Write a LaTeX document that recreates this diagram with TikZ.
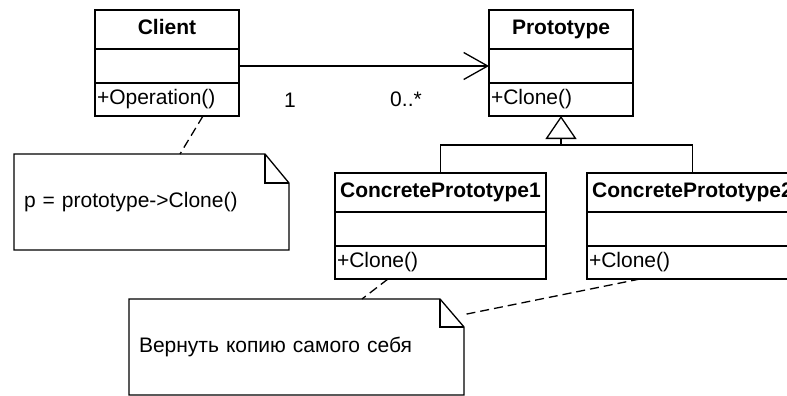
\documentclass[tikz,border=0pt]{standalone}
\usepackage{fontspec}
\setmainfont{Liberation Sans}
\usetikzlibrary{arrows.meta}
\begin{document}
\begin{tikzpicture}[x=1pt, y=-1pt, font=\fontsize{21}{25}\selectfont]

\tikzset{head/.style = {draw, line width=1.3pt, font=\fontsize{21}{25}\selectfont\bfseries, anchor=north west, minimum height=39pt, text height=15pt, text depth=5pt, inner sep=2pt, outer sep=0pt, align=center}}
\tikzset{attr/.style = {draw, line width=1.3pt, anchor=north west, minimum height=34pt, inner sep=2pt, outer sep=0pt}}
\tikzset{ops/.style = {draw, line width=1.3pt, anchor=north west, minimum height=33pt, text height=15pt, text depth=5pt, inner sep=2pt, outer sep=0pt, align=left}}
\tikzset{notebox/.style = {minimum height=96pt, inner xsep=10pt, outer sep=0pt, align=left}}
\tikzset{umlline/.style = {line width=1.3pt}}
\tikzset{assoc/.style = {umlline, -{Straight Barb[length=24pt, width=27pt]}}}
\tikzset{gen/.style = {umlline, -{Triangle[open, length=23pt, width=31pt]}}}
\tikzset{notelink/.style = {umlline, dash pattern=on 9pt off 5pt}}

\useasboundingbox (0,0) rectangle (787,396);
\clip (0,0) rectangle (787,396);
%classes
\node[head, text width=140pt] (client) at (95,10) {Client};
\node[attr, text width=140pt] (clientA) at (client.south west) {};
\node[ops, text width=140pt] (clientO) at (clientA.south west) {+Operation()};
\node[head, text width=140pt] (proto) at (489,10) {Prototype};
\node[attr, text width=140pt] (protoA) at (proto.south west) {};
\node[ops, text width=140pt] (protoO) at (protoA.south west) {+Clone()};
\node[head, text width=207pt] (cp1) at (335,173) {ConcretePrototype1};
\node[attr, text width=207pt] (cp1A) at (cp1.south west) {};
\node[ops, text width=207pt] (cp1O) at (cp1A.south west) {+Clone()};
\node[head, text width=207pt] (cp2) at (587,173) {ConcretePrototype2};
\node[attr, text width=207pt] (cp2A) at (cp2.south west) {};
\node[ops, text width=207pt] (cp2O) at (cp2A.south west) {+Clone()};
%notes
\node[notebox, text width=255pt] (note1) at (151.5,202) {p = prototype->Clone()};
\draw[umlline] (note1.north west) -- ([xshift=-24pt]note1.north east) -- ([yshift=-29pt]note1.north east) -- (note1.south east) -- (note1.south west) -- cycle;
\draw[umlline] ([xshift=-24pt]note1.north east) |- ([yshift=-29pt]note1.north east);
\node[notebox, text width=315pt] (note2) at (296.5,347) {Вернуть копию самого себя};
\draw[umlline] (note2.north west) -- ([xshift=-24pt]note2.north east) -- ([yshift=-28pt]note2.north east) -- (note2.south east) -- (note2.south west) -- cycle;
\draw[umlline] ([xshift=-24pt]note2.north east) |- ([yshift=-28pt]note2.north east);
%edges
\draw[assoc] (clientA.east) -- (protoA.west);
\node (one) at (290,100) {1};
\node (many) at (406,99) {0..*};
\coordinate (bus) at (561,145);
\draw[gen] (bus) -- (protoO.south);
\draw[umlline] (cp1.north) |- (bus) -| (cp2.north);
\draw[notelink] ([xshift=36pt]clientO.south) -- ([xshift=28.5pt]note1.north);
\draw[notelink] ([xshift=-52.5pt]cp1O.south) -- ([xshift=65.5pt]note2.north);
\draw[notelink] ([xshift=-52.5pt]cp2O.south) -- ([xshift=-2pt, yshift=-16pt]note2.north east);

\end{tikzpicture}
\end{document}
